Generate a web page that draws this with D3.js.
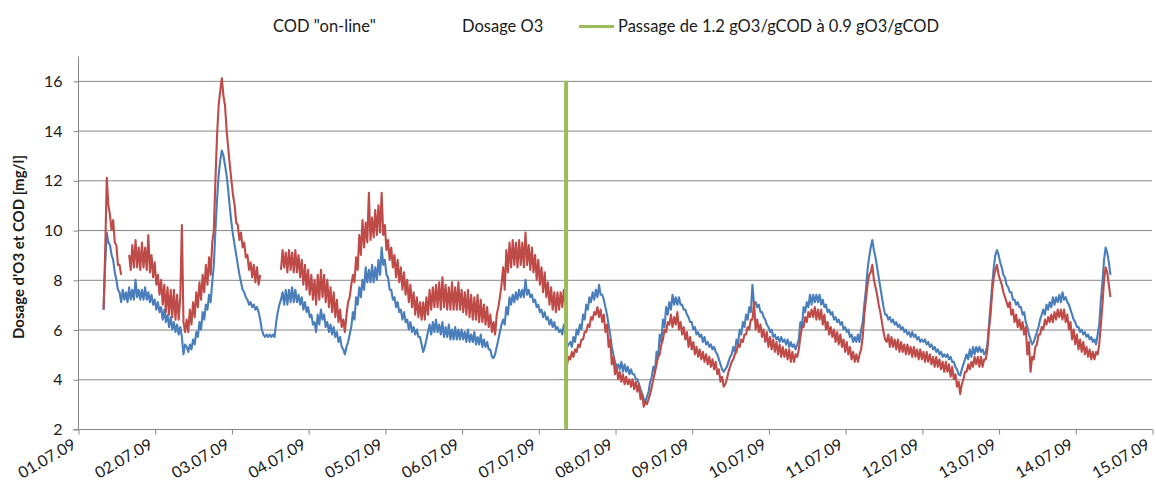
<!DOCTYPE html>
<html>
<head>
<meta charset="utf-8">
<script src="https://cdn.jsdelivr.net/npm/d3@7"></script>
<style>
  html, body { margin: 0; padding: 0; background: #fff; }
  svg { display: block; font-family: Lato, "Open Sans", sans-serif; }
</style>
</head>
<body>
<svg id="chart" width="1156" height="492"></svg>
<script>
// ---- data: half-hourly readings (alternating upper / lower edge of the noisy signal),
//      first sample at 01.07.09 08:00 ----
const firstSampleHour = 8;
const sampleStepHours = 0.5;
const dayLabels = ["01.07.09","02.07.09","03.07.09","04.07.09","05.07.09","06.07.09","07.07.09","08.07.09","09.07.09","10.07.09","11.07.09","12.07.09","13.07.09","14.07.09","15.07.09"];
const yTicks = [2, 4, 6, 8, 10, 12, 14, 16];
const seriesNames = ["COD \"on-line\"", "Dosage O3", "Passage de 1.2 gO3/gCOD à 0.9 gO3/gCOD"];

const codOnline = [
  // 01.07 (08h-23h)
  6.8, 8.6, 9.9, 9.5, 9.4, 9.0, 8.8, 8.3, 8.0, 7.6, 7.5, 7.1, 7.6, 7.2, 7.5, 7.1, 7.7, 7.2, 7.6, 7.2, 8.0, 7.3, 7.6, 7.2, 7.6, 7.2, 7.7, 7.2, 7.5, 7.1, 7.4, 7.0,
  // 02.07
  7.2, 6.8, 7.1, 6.7, 6.9, 6.4, 6.8, 6.3, 6.6, 6.1, 6.5, 6.0, 6.3, 5.9, 6.2, 5.8, 6.1, 5.7, 5.0, 5.4, 5.3, 5.1, 5.4, 5.2,
  5.6, 5.4, 5.9, 5.7, 6.3, 6.0, 6.7, 6.4, 7.0, 6.8, 7.4, 7.1, 7.9, 8.6, 10.0, 11.2, 12.2, 12.8, 13.2, 13.0, 12.6, 12.2, 11.6, 10.9,
  // 03.07
  10.3, 9.8, 9.4, 9.0, 8.6, 8.2, 7.9, 7.6, 7.5, 7.3, 7.2, 7.0, 7.1, 6.9, 7.0, 6.8, 6.9, 6.7, 6.4, 6.0, 5.8, 5.7, 5.8, 5.7,
  5.8, 5.7, 5.8, 5.7, 6.3, 6.7, 7.0, 7.2, 7.5, 7.0, 7.6, 7.0, 7.6, 7.1, 7.7, 7.1, 7.6, 7.1, 7.4, 7.0, 7.3, 6.8, 7.1, 6.7,
  // 04.07
  6.9, 6.5, 6.6, 6.2, 6.3, 5.9, 6.6, 6.2, 6.8, 6.4, 6.6, 6.1, 6.3, 5.9, 6.2, 5.8, 6.1, 5.7, 5.9, 5.5, 5.7, 5.3, 5.2, 5.0,
  5.3, 5.5, 5.8, 6.1, 6.7, 6.4, 7.3, 7.0, 7.7, 7.3, 8.0, 7.6, 8.5, 7.9, 8.4, 7.9, 8.6, 7.9, 8.5, 8.0, 8.8, 8.2, 9.3, 8.6,
  // 05.07
  8.8, 8.2, 8.1, 7.6, 7.6, 7.2, 7.3, 6.9, 7.1, 6.7, 6.8, 6.4, 6.7, 6.3, 6.4, 6.0, 6.3, 5.9, 6.1, 5.8, 6.0, 5.7, 5.7, 5.4,
  5.1, 5.3, 5.6, 5.9, 6.2, 5.8, 6.3, 5.9, 6.4, 5.9, 6.2, 5.8, 6.3, 5.7, 6.1, 5.7, 6.2, 5.6, 6.0, 5.6, 6.1, 5.6, 6.0, 5.6,
  // 06.07
  6.0, 5.6, 5.9, 5.5, 6.0, 5.5, 5.8, 5.5, 5.9, 5.4, 5.7, 5.4, 5.8, 5.3, 5.6, 5.3, 5.5, 5.2, 5.2, 4.9, 4.85, 5.0, 5.3, 5.6,
  5.9, 6.2, 6.4, 6.2, 6.9, 6.6, 7.3, 7.0, 7.4, 7.1, 7.5, 7.2, 7.6, 7.3, 7.6, 7.3, 8.0, 7.4, 7.6, 7.3, 7.4, 7.1, 7.2, 6.9,
  // 07.07
  7.0, 6.7, 6.8, 6.5, 6.7, 6.4, 6.5, 6.2, 6.4, 6.1, 6.3, 6.0, 6.1, 5.9, 6.0, 5.8, 6.2, 5.9, 5.3, 5.4, 5.5, 5.3, 5.7, 5.5,
  6.0, 5.8, 6.2, 6.0, 6.6, 6.4, 7.0, 6.8, 7.3, 7.1, 7.5, 7.2, 7.6, 7.3, 7.8, 7.4, 7.4, 7.2, 6.9, 6.6, 6.2, 5.8, 5.3, 5.0,
  // 08.07
  4.7, 4.5, 4.6, 4.4, 4.7, 4.3, 4.6, 4.3, 4.5, 4.2, 4.4, 4.2, 4.2, 4.0, 4.0, 3.8, 3.6, 3.4, 3.2, 3.1, 3.3, 3.5, 3.9, 4.1,
  4.5, 4.3, 5.1, 4.9, 5.8, 5.5, 6.4, 6.1, 6.9, 6.6, 7.1, 6.8, 7.4, 7.0, 7.3, 7.0, 7.3, 7.0, 7.0, 6.8, 6.8, 6.6, 6.5, 6.3,
  // 09.07
  6.3, 6.0, 6.1, 5.8, 5.9, 5.7, 5.8, 5.5, 5.7, 5.4, 5.5, 5.3, 5.4, 5.2, 5.3, 5.1, 5.0, 4.8, 4.6, 4.4, 4.3, 4.4, 4.5, 4.7,
  4.9, 5.0, 5.3, 5.1, 5.6, 5.4, 6.0, 5.8, 6.3, 6.1, 6.6, 6.4, 6.9, 6.7, 7.8, 7.0, 7.1, 6.9, 7.0, 6.7, 6.7, 6.5, 6.4, 6.2,
  // 10.07
  6.1, 5.9, 6.0, 5.7, 5.8, 5.6, 5.7, 5.5, 5.7, 5.5, 5.6, 5.4, 5.6, 5.3, 5.5, 5.3, 5.4, 5.2, 5.4, 5.6, 6.3, 6.1, 6.9, 6.7,
  7.1, 6.9, 7.4, 7.0, 7.4, 7.1, 7.4, 7.1, 7.4, 7.0, 7.2, 6.9, 7.0, 6.7, 6.8, 6.6, 6.7, 6.4, 6.5, 6.3, 6.4, 6.2, 6.3, 6.0,
  // 11.07
  6.1, 5.9, 6.0, 5.7, 5.8, 5.5, 5.7, 5.5, 5.8, 5.5, 6.0, 6.3, 7.0, 7.6, 8.4, 8.9, 9.3, 9.6, 9.2, 8.9, 8.5, 8.1, 7.7, 7.3,
  6.9, 6.6, 6.6, 6.4, 6.5, 6.3, 6.4, 6.2, 6.3, 6.1, 6.2, 6.0, 6.1, 5.9, 6.0, 5.8, 5.9, 5.7, 5.9, 5.7, 5.8, 5.6, 5.7, 5.5,
  // 12.07
  5.6, 5.5, 5.6, 5.4, 5.5, 5.3, 5.4, 5.2, 5.3, 5.1, 5.2, 5.0, 5.1, 4.9, 5.0, 4.9, 5.0, 4.8, 4.9, 4.7, 4.7, 4.5, 4.4, 4.2,
  4.15, 4.4, 4.6, 4.8, 5.0, 4.8, 5.2, 4.9, 5.3, 5.0, 5.3, 5.1, 5.3, 5.1, 5.2, 5.0, 5.1, 5.4, 6.2, 7.0, 7.8, 8.5, 9.0, 9.2,
  // 13.07
  9.0, 8.7, 8.5, 8.2, 8.1, 7.8, 7.7, 7.5, 7.5, 7.2, 7.2, 7.0, 7.1, 6.9, 6.9, 6.6, 6.7, 6.3, 6.1, 5.8, 5.6, 5.4, 5.5, 5.7,
  5.9, 6.1, 6.4, 6.6, 6.8, 6.6, 7.0, 6.8, 7.1, 6.9, 7.3, 7.0, 7.3, 7.1, 7.4, 7.1, 7.5, 7.2, 7.3, 7.1, 7.0, 6.8, 6.6, 6.4,
  // 14.07 (00h-11h)
  6.3, 6.1, 6.1, 5.9, 6.0, 5.8, 5.9, 5.7, 5.8, 5.6, 5.7, 5.5, 5.6, 5.4, 5.8, 6.2, 7.2, 7.9, 8.8, 9.3, 9.1, 8.7, 8.2
];

const dosageO3 = [
  // 01.07 (08h-23h)
  6.8, 9.1, 12.1, 11.0, 10.6, 10.0, 10.4, 9.5, 9.4, 8.6, 8.6, 8.2, null, null, null, null, 9.0, 8.4, 9.4, 8.5, 9.6, 8.5, 9.3, 8.4, 9.5, 8.5, 9.3, 8.4, 9.8, 8.3, 9.0, 8.1,
  // 02.07
  8.7, 7.8, 8.2, 7.4, 8.0, 7.0, 7.8, 6.7, 7.7, 6.6, 7.6, 6.5, 7.6, 6.4, 7.4, 6.4, 7.3, 10.2, 6.3, 5.9, 6.4, 5.9, 6.8, 6.2,
  7.1, 6.5, 7.5, 6.9, 7.9, 7.2, 8.2, 7.5, 8.6, 7.8, 8.9, 8.2, 9.5, 10.0, 12.0, 13.8, 15.0, 15.6, 16.1, 15.4, 15.0, 14.0, 13.3, 12.6,
  // 03.07
  12.0, 11.4, 11.0, 10.3, 10.2, 9.6, 9.9, 9.3, 9.5, 8.9, 9.0, 8.4, 8.7, 8.1, 8.6, 7.9, 8.5, 7.8, 8.2, null, null, null, null, null,
  null, null, null, null, null, null, null, 8.4, 9.2, 8.5, 9.1, 8.3, 9.2, 8.4, 9.1, 8.3, 9.2, 8.3, 9.0, 8.1, 8.8, 7.8, 8.6, 7.6,
  // 04.07
  8.4, 7.4, 8.2, 7.2, 8.0, 7.0, 8.2, 7.2, 8.4, 7.3, 8.2, 7.1, 8.0, 6.9, 7.7, 6.7, 7.5, 6.5, 7.2, 6.3, 6.8, 6.1, 6.4, 5.9,
  6.6, 7.1, 7.3, 7.8, 8.2, 7.9, 8.9, 8.4, 9.8, 9.0, 10.4, 9.3, 10.3, 9.5, 11.5, 9.6, 10.5, 9.7, 10.8, 9.8, 11.0, 9.9, 11.5, 9.8,
  // 05.07
  10.2, 9.2, 9.6, 8.8, 9.3, 8.5, 9.0, 8.1, 8.8, 7.9, 8.5, 7.6, 8.3, 7.4, 8.0, 7.1, 7.8, 6.9, 7.5, 6.6, 7.3, 6.5, 7.1, 6.4,
  7.1, 6.4, 7.3, 6.6, 7.6, 6.8, 7.7, 6.9, 7.8, 6.9, 7.9, 6.8, 8.1, 6.9, 7.8, 6.8, 7.7, 6.8, 7.9, 6.8, 7.7, 6.8, 7.9, 6.8,
  // 06.07
  7.6, 6.7, 7.5, 6.6, 7.6, 6.5, 7.4, 6.4, 7.3, 6.4, 7.4, 6.3, 7.2, 6.3, 7.0, 6.2, 6.9, 6.1, 6.6, 5.9, 6.3, 5.8, 6.6, 6.9,
  7.3, 7.8, 8.5, 7.6, 9.2, 8.3, 9.5, 8.5, 9.6, 8.6, 9.5, 8.5, 9.6, 8.6, 9.5, 8.5, 9.9, 8.6, 9.4, 8.4, 9.3, 8.3, 9.0, 8.0,
  // 07.07
  8.8, 7.8, 8.5, 7.5, 8.3, 7.3, 7.9, 7.0, 7.7, 6.8, 7.5, 6.7, 7.5, 6.8, 7.5, 6.9, 7.6, 7.0, 4.6, 4.9, 4.8, 5.1, 4.9, 5.2,
  5.1, 5.4, 5.3, 5.6, 5.6, 5.9, 5.9, 6.2, 6.1, 6.5, 6.4, 6.7, 6.6, 6.9, 6.5, 6.8, 6.3, 6.6, 5.9, 6.2, 5.3, 5.6, 4.6, 4.9,
  // 08.07
  4.2, 4.5, 4.0, 4.3, 3.9, 4.2, 3.8, 4.1, 3.8, 4.0, 3.7, 4.0, 3.6, 3.9, 3.5, 3.8, 3.2, 3.4, 2.9, 3.1, 3.0, 3.2, 3.4, 3.7,
  4.0, 4.3, 4.6, 4.9, 5.0, 5.4, 5.6, 6.0, 5.9, 6.3, 6.2, 6.6, 6.1, 6.5, 6.2, 6.7, 6.0, 6.3, 5.8, 6.1, 5.6, 5.9, 5.3, 5.7,
  // 09.07
  5.2, 5.5, 5.0, 5.3, 4.9, 5.2, 4.8, 5.1, 4.7, 5.0, 4.6, 4.9, 4.5, 4.8, 4.4, 4.7, 4.2, 4.4, 3.9, 4.1, 3.7, 3.8, 4.0, 4.3,
  4.5, 4.7, 4.8, 5.0, 5.1, 5.4, 5.3, 5.6, 5.5, 5.8, 5.8, 6.1, 6.0, 6.4, 6.4, 7.1, 6.0, 6.4, 5.9, 6.2, 5.7, 6.0, 5.5, 5.9,
  // 10.07
  5.3, 5.7, 5.2, 5.6, 5.1, 5.5, 5.0, 5.4, 4.9, 5.3, 4.9, 5.2, 4.8, 5.2, 4.7, 5.1, 4.7, 5.0, 4.9, 5.2, 5.7, 6.1, 6.1, 6.5,
  6.3, 6.7, 6.5, 6.8, 6.5, 6.9, 6.4, 6.8, 6.4, 6.8, 6.2, 6.6, 6.0, 6.3, 5.8, 6.1, 5.7, 6.0, 5.5, 5.9, 5.4, 5.8, 5.3, 5.6,
  // 11.07
  5.1, 5.5, 5.0, 5.3, 4.8, 5.1, 4.7, 5.0, 4.7, 5.0, 5.2, 5.7, 6.6, 7.2, 7.8, 8.2, 8.3, 8.6, 8.0, 7.7, 7.4, 7.0, 6.7, 6.3,
  5.9, 5.6, 5.5, 5.8, 5.3, 5.7, 5.3, 5.6, 5.2, 5.6, 5.1, 5.5, 5.1, 5.4, 5.0, 5.4, 5.0, 5.3, 4.9, 5.3, 4.9, 5.2, 4.8, 5.2,
  // 12.07
  4.8, 5.1, 4.7, 5.1, 4.7, 5.0, 4.6, 4.9, 4.5, 4.9, 4.5, 4.8, 4.4, 4.7, 4.3, 4.7, 4.3, 4.6, 4.1, 4.5, 4.0, 4.2, 3.7, 3.9,
  3.4, 3.8, 4.0, 4.3, 4.3, 4.6, 4.4, 4.7, 4.5, 4.9, 4.6, 4.9, 4.5, 4.9, 4.5, 4.8, 4.8, 5.2, 6.0, 6.6, 7.5, 8.1, 8.4, 8.6,
  // 13.07
  8.2, 8.0, 7.8, 7.5, 7.3, 7.1, 6.9, 7.1, 6.6, 6.8, 6.3, 6.6, 6.1, 6.4, 6.0, 6.3, 5.8, 6.1, 5.0, 5.5, 4.3, 4.9, 4.8, 5.3,
  5.4, 5.8, 5.8, 6.1, 6.0, 6.4, 6.2, 6.5, 6.3, 6.6, 6.3, 6.7, 6.4, 6.8, 6.5, 6.8, 6.4, 6.8, 6.3, 6.6, 6.0, 6.3, 5.6, 6.0,
  // 14.07 (00h-11h)
  5.4, 5.8, 5.2, 5.6, 5.1, 5.5, 5.0, 5.3, 4.9, 5.2, 4.8, 5.1, 4.8, 5.1, 5.0, 5.4, 6.2, 7.0, 8.0, 8.5, 8.3, 7.8, 7.3
];

// vertical marker: switch of ozone ratio (hours from 01.07.09 00:00)
const switchHours = [152.7, 152.7];
const switchValues = [2, 16];

// ---- chart ----
const svg = d3.select("#chart");
const m = { left: 78, right: 1152, top: 56, bottom: 429 };
const x = d3.scaleLinear().domain([0, 14 * 24]).range([m.left, m.right]);
const y = d3.scaleLinear().domain([2, 17]).range([m.bottom, m.top]);
const gridColor = "#868686";
const textColor = "#1a1a1a";

// gridlines
svg.append("g").selectAll("line")
  .data(yTicks.filter(v => v > 2))
  .join("line")
  .attr("x1", m.left).attr("x2", m.right)
  .attr("y1", d => y(d) + 0.5).attr("y2", d => y(d) + 0.5)
  .attr("stroke", gridColor).attr("stroke-width", 1);

// y axis
const yAxis = d3.axisLeft(y).tickValues(yTicks).tickSize(5).tickPadding(11).tickFormat(d3.format("d"));
const gy = svg.append("g").attr("transform", `translate(${m.left + 0.5},0.5)`).call(yAxis);
gy.select(".domain").attr("stroke", gridColor).attr("d", `M-5,${y(2)}H0V${m.top}`);
gy.selectAll(".tick line").attr("stroke", gridColor);
gy.selectAll(".tick text").attr("fill", textColor).style("font-size", "16px").style("font-family", "Lato, sans-serif");

// x axis
const tickHours = dayLabels.map((_, i) => i * 24);
const xAxis = d3.axisBottom(x).tickValues(tickHours).tickSize(5).tickFormat((d, i) => dayLabels[i]);
const gx = svg.append("g").attr("transform", `translate(0.5,${m.bottom + 0.5})`).call(xAxis);
gx.select(".domain").attr("stroke", gridColor).attr("d", `M${m.left},0H${m.right}`);
gx.selectAll(".tick line").attr("stroke", gridColor);
gx.selectAll(".tick text")
  .attr("fill", textColor)
  .style("font-size", "16px").style("font-family", "Lato, sans-serif")
  .attr("text-anchor", "end")
  .attr("dy", "0")
  .attr("y", 0)
  .attr("transform", "translate(-2,18) rotate(-30)");

// series
const toPoints = arr => arr.map((v, i) => ({ h: firstSampleHour + i * sampleStepHours, v }));
const line = d3.line().defined(d => d.v !== null).x(d => x(d.h)).y(d => y(d.v));

svg.append("path").datum(toPoints(codOnline))
  .attr("fill", "none").attr("stroke", "#4A7EBB").attr("stroke-width", 2.1)
  .attr("stroke-linejoin", "round").attr("d", line);
svg.append("path").datum(toPoints(dosageO3))
  .attr("fill", "none").attr("stroke", "#BE4B48").attr("stroke-width", 2.1)
  .attr("stroke-linejoin", "round").attr("d", line);

const switchPts = switchHours.map((h, i) => ({ h, v: switchValues[i] }));
svg.append("path").datum(switchPts)
  .attr("fill", "none").attr("stroke", "#9BBB59").attr("stroke-width", 4)
  .attr("d", line);

// y axis title
svg.append("text")
  .attr("transform", "translate(24,247) rotate(-90)")
  .attr("text-anchor", "middle")
  .attr("fill", textColor)
  .style("font-size", "15px").style("font-weight", "bold")
  .text("Dosage d'O3 et COD [mg/l]");

// legend
const lg = svg.append("g").style("font-size", "16.5px").attr("fill", textColor);
lg.append("text").attr("x", 273).attr("y", 32).text(seriesNames[0]);
lg.append("text").attr("x", 462).attr("y", 32).text(seriesNames[1]);
lg.append("line").attr("x1", 579).attr("x2", 614).attr("y1", 26.5).attr("y2", 26.5)
  .attr("stroke", "#9BBB59").attr("stroke-width", 3);
lg.append("text").attr("x", 618).attr("y", 32).text(seriesNames[2]);
</script>
</body>
</html>
